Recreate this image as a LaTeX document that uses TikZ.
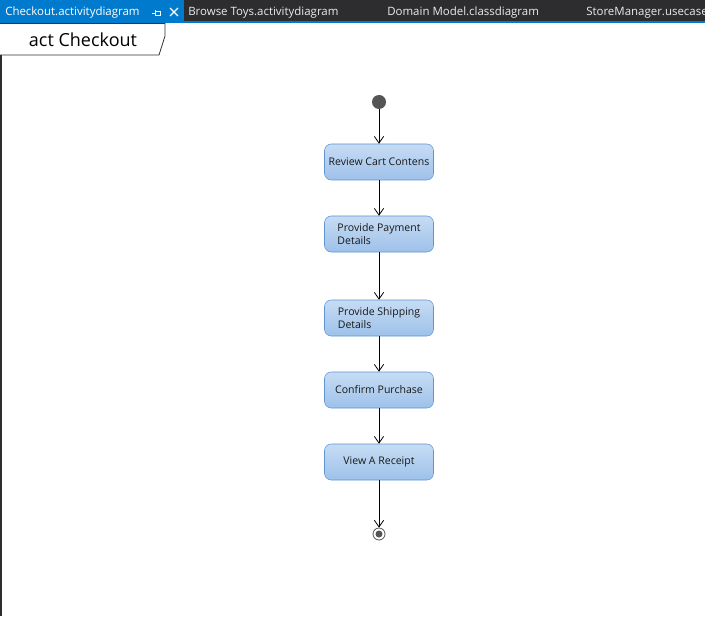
\documentclass[tikz,border=0pt]{standalone}
\usepackage{fontspec}
\setmainfont{Open Sans}
\usepackage{xcolor}
\usetikzlibrary{arrows.meta,positioning,shapes.geometric}

\definecolor{tabbar}{HTML}{2D2D30}
\definecolor{tabblue}{HTML}{007ACC}
\definecolor{acttop}{HTML}{C6DCF4}
\definecolor{actbot}{HTML}{9EC1EA}
\definecolor{actline}{HTML}{5F93D3}
\definecolor{nodegray}{HTML}{555555}

\begin{document}
\begin{tikzpicture}[
  x=0.75pt, y=-0.75pt,
  action/.style={draw=actline, top color=acttop, bottom color=actbot, rounded corners=5pt,
    minimum width=81.75pt, minimum height=27pt, inner sep=0pt, align=left,
    font=\fontsize{7.9}{9.2}\selectfont, text=black!90},
  flow/.style={-{Straight Barb[length=5pt,width=7pt]}, black, line width=0.6pt},
  tabtext/.style={font=\fontsize{8.6}{10}\selectfont, anchor=west, inner sep=0pt}
]
\useasboundingbox (0,0) rectangle (705,616);
\fill[white] (0,0) rectangle (705,616);

% tab strip
\fill[tabbar] (0,0) rectangle (705,21);
\fill[tabblue] (0,0) rectangle (184,21);
\fill[tabblue] (0,21) rectangle (705,23.5);
\node[tabtext, text=white] (tabA) at (5,12.5) {Checkout.activitydiagram};
\node[tabtext, text=white!92!black] (tabB) at (188,12.5) {Browse Toys.activitydiagram};
\node[tabtext, text=white!92!black] (tabC) at (387,12.5) {Domain Model.classdiagram};
\node[tabtext, text=white!92!black] (tabD) at (586,12.5) {StoreManager.usecase};
% pin and close icons
\draw[white, line width=0.6pt] (152,13) -- (155,13) (155,10) -- (155,16) (155,11) -- (160,11) -- (160,15) -- (155,15);
\draw[white, line width=0.9pt] (170,8) -- (178,16) (170,16) -- (178,8);

% left border
\fill[tabbar] (0,23.5) rectangle (1.5,616);

% frame label
\draw[fill=white, draw=black!80, line width=0.6pt] (-1,23.5) -- (165,23.5) -- (165,36) -- (159,55) -- (-1,55);
\node[font=\fontsize{13.5}{16}\selectfont] (frame) at (83,40) {act Checkout};

% activity flow
\fill[nodegray] (379,102) circle (7) coordinate (start);
\node[action] (review) at (379,162) {Review Cart Contens};
\node[action] (payment) at (379,234) {Provide Payment\\Details};
\node[action] (shipping) at (379,318) {Provide Shipping\\Details};
\node[action] (confirm) at (379,390) {Confirm Purchase};
\node[action] (receipt) at (379,462) {View A Receipt};
\node[circle, draw=nodegray, fill=white, minimum size=9pt, inner sep=0pt, line width=0.6pt] (final) at (379,534) {};
\fill[nodegray] (final.center) circle (3.5);

\draw[flow] (379,109) -- (review.north);
\draw[flow] (review) -- (payment);
\draw[flow] (payment) -- (shipping);
\draw[flow] (shipping) -- (confirm);
\draw[flow] (confirm) -- (receipt);
\draw[flow] (receipt) -- (final);
\end{tikzpicture}
\end{document}
